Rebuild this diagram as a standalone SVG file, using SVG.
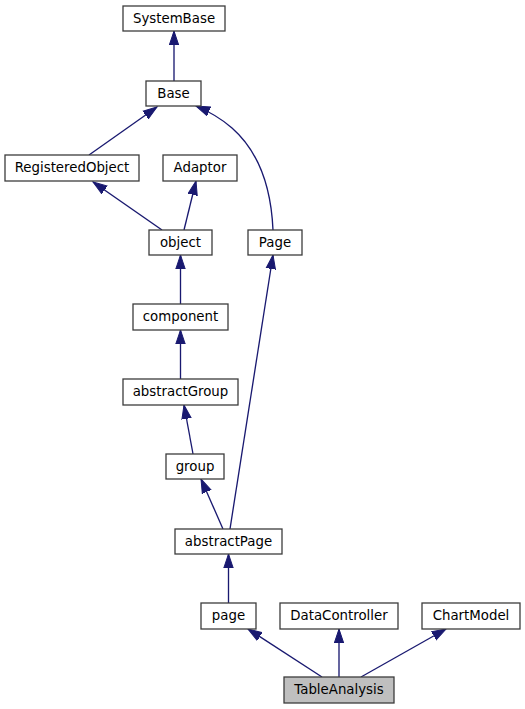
<svg xmlns="http://www.w3.org/2000/svg" width="525" height="709" viewBox="0 0 525 709">
<style>
.n rect{fill:#ffffff;stroke:#3c3c3c;stroke-width:1.3}
.n.cur rect{fill:#bfbfbf}
.n text{font-family:"DejaVu Sans","Liberation Sans",sans-serif;font-size:13.33px;fill:#000;text-anchor:middle}
.e path{fill:none;stroke:#191970;stroke-width:1.33;marker-end:url(#ah)}
</style>
<defs>
<marker id="ah" markerUnits="userSpaceOnUse" markerWidth="16" markerHeight="12" refX="14" refY="5.5" orient="auto">
<path d="M0,0.8 L14,5.5 L0,10.2 z" fill="#191970" stroke="#191970" stroke-width="1"/>
</marker>
</defs>
<rect width="525" height="709" fill="#ffffff"/>
<g id="edges" class="e">
<path d="M174,81 L174,31"/>
<path d="M89,155 L157,107"/>
<path d="M273,230 C271,185 257,150 232,128 C224,121 215,114 196,106"/>
<path d="M162,230 L93,182"/>
<path d="M184,230 L196,181"/>
<path d="M180.5,304 L180.5,255"/>
<path d="M230,529 L273,255"/>
<path d="M180.5,379 L180.5,330"/>
<path d="M193,454 L184,405"/>
<path d="M223,529 L201,479"/>
<path d="M228.5,603 L228.5,554"/>
<path d="M322,677 L248,629"/>
<path d="M339,677 L339,629"/>
<path d="M361,677 L446,629"/>
</g>
<g id="SystemBase" class="n"><rect x="123" y="6" width="102" height="25"/><text x="174" y="22.7">SystemBase</text></g>
<g id="Base" class="n"><rect x="146" y="81" width="55" height="25"/><text x="173.5" y="97.7">Base</text></g>
<g id="RegisteredObject" class="n"><rect x="5" y="155" width="134" height="26"/><text x="72" y="172">RegisteredObject</text></g>
<g id="Adaptor" class="n"><rect x="163" y="155" width="74" height="26"/><text x="200" y="172">Adaptor</text></g>
<g id="object" class="n"><rect x="149" y="230" width="63" height="25"/><text x="180.5" y="246.7">object</text></g>
<g id="Page" class="n"><rect x="248" y="230" width="54" height="25"/><text x="275" y="246.7">Page</text></g>
<g id="component" class="n"><rect x="133" y="304" width="95" height="26"/><text x="180.5" y="321">component</text></g>
<g id="abstractGroup" class="n"><rect x="123" y="379" width="115" height="26"/><text x="180.5" y="396">abstractGroup</text></g>
<g id="group" class="n"><rect x="166" y="454" width="58" height="25"/><text x="195" y="470.7">group</text></g>
<g id="abstractPage" class="n"><rect x="175" y="529" width="107" height="25"/><text x="228.5" y="545.7">abstractPage</text></g>
<g id="page" class="n"><rect x="201" y="603" width="55" height="26"/><text x="228.5" y="620">page</text></g>
<g id="DataController" class="n"><rect x="280" y="603" width="118" height="26"/><text x="339" y="620">DataController</text></g>
<g id="ChartModel" class="n"><rect x="422" y="603" width="98" height="26"/><text x="471" y="620">ChartModel</text></g>
<g id="TableAnalysis" class="n cur"><rect x="284" y="677" width="110" height="26"/><text x="339" y="694">TableAnalysis</text></g>
</svg>
